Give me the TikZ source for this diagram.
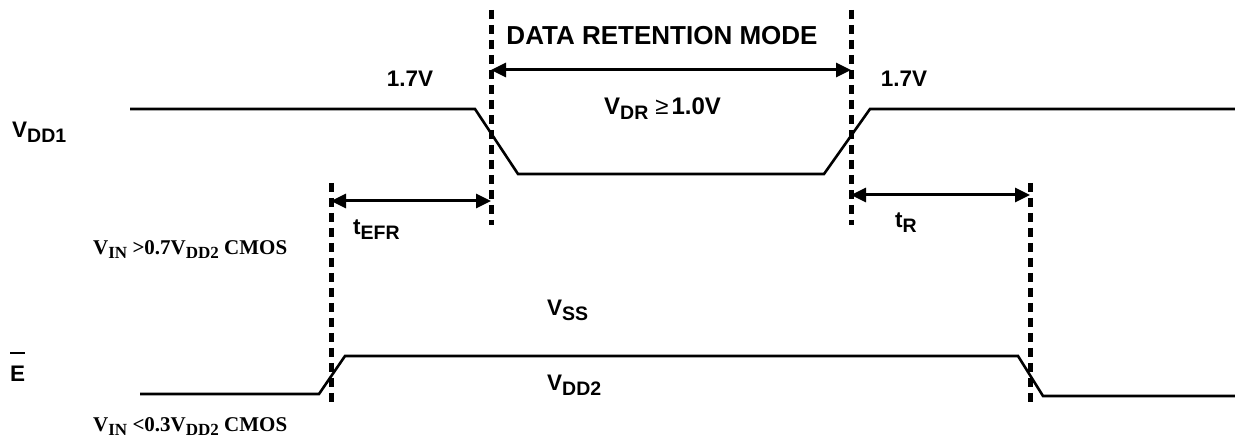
\documentclass[tikz,border=0pt]{standalone}
\usepackage{fontspec}
\newfontfamily\arialfont{Liberation Sans}
\newfontfamily\timesfont{Liberation Serif}
\usetikzlibrary{arrows.meta}
\newcommand\lo[1]{\raisebox{-5pt}{\fontsize{19.5}{19.5}\selectfont #1}}
\newcommand\tlo[1]{\raisebox{-4pt}{\fontsize{17}{17}\selectfont #1}}

\begin{document}
\begin{tikzpicture}[x=1pt, y=-1pt,
  wave/.style={line width=2.6pt, line join=miter},
  guide/.style={line width=5pt, dash pattern=on 9pt off 6pt},
  span/.style={line width=3pt, {Triangle[length=15pt,width=14pt]}-{Triangle[length=15pt,width=14pt]}},
  lbl/.style={inner sep=0pt, anchor=base west, font=\arialfont\bfseries\fontsize{22.5}{22.5}\selectfont},
  cmos/.style={inner sep=0pt, anchor=base west, font=\timesfont\bfseries\fontsize{21}{21}\selectfont}]
  \useasboundingbox (0,0) rectangle (1235,443);

  % dashed guide lines
  \coordinate (in top)  at (491,10);  \coordinate (in bot)  at (491,225);
  \coordinate (out top) at (851,10);  \coordinate (out bot) at (851,225);
  \coordinate (ef top)  at (331,183); \coordinate (ef bot)  at (331,405);
  \coordinate (er top)  at (1030,183); \coordinate (er bot) at (1030,406);
  \draw[guide] (in top) -- (in bot);
  \draw[guide] (out top) -- (out bot);
  \draw[guide] (ef top) -- (ef bot);
  \draw[guide] (er top) -- (er bot);

  % waveforms
  \draw[wave] (130,109) -- (475,109) -- (518,174) -- (824,174) -- (870,109) -- (1235,109);
  \draw[wave] (140,394) -- (319,394) -- (345,356) -- (1018,356) -- (1043,396) -- (1235,396);

  % time spans
  \coordinate (drm l) at (491,70);  \coordinate (drm r) at (851,70);
  \coordinate (efr l) at (331,201); \coordinate (efr r) at (491,201);
  \coordinate (r l)   at (851,195); \coordinate (r r)   at (1030,195);
  \draw[span] (drm l) -- (drm r);
  \draw[span] (efr l) -- (efr r);
  \draw[span] (r l) -- (r r);

  % labels
  \node[lbl, anchor=base, font=\arialfont\bfseries\fontsize{26}{26}\selectfont] (mode) at (662,45) {DATA RETENTION MODE};
  \node[lbl, anchor=base] (v1) at (410,87) {1.7V};
  \node[lbl, anchor=base] (v2) at (904,87) {1.7V};
  \node[lbl] (vdd1) at (12,138) {V\lo{DD1}};
  \node[lbl, font=\arialfont\bfseries\fontsize{24}{24}\selectfont] (vdr) at (604,115) {V\lo{DR}\hspace{7pt}{\mdseries\fontsize{24}{24}\selectfont ≥}\hspace{3pt}1.0V};
  \node[lbl] (tefr) at (353,235) {t\lo{EFR}};
  \node[lbl] (tr) at (895,228) {t\lo{R}};
  \node[lbl] (vss) at (547,316) {V\lo{SS}};
  \node[lbl] (vdd2) at (547,391) {V\lo{DD2}};
  \node[lbl] (ebar) at (10,382) {E};
  \draw[line width=2pt] ([yshift=13pt]ebar.north west) -- ([yshift=13pt]ebar.north east);
  \node[cmos] (vih) at (93,255) {V\tlo{IN} {>}0.7V\tlo{DD2} CMOS};
  \node[cmos] (vil) at (93,432) {V\tlo{IN} {<}0.3V\tlo{DD2} CMOS};
\end{tikzpicture}
\end{document}
